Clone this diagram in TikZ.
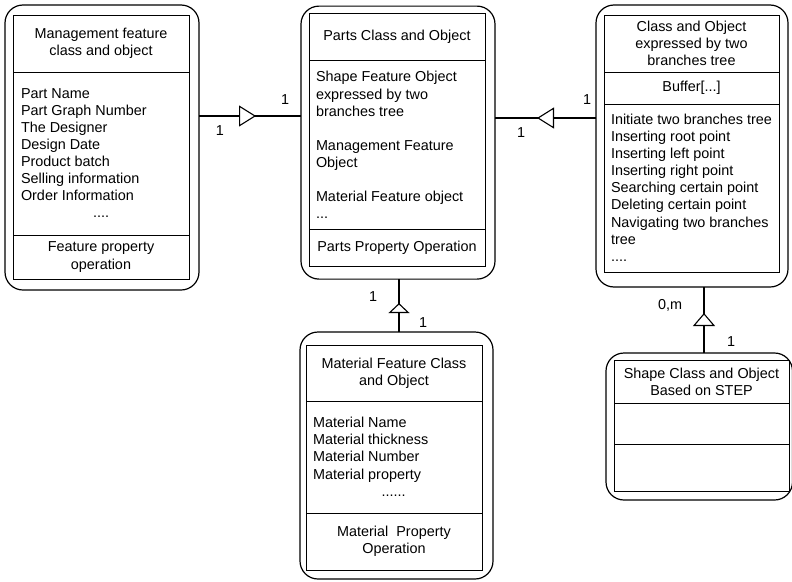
\documentclass[tikz,border=0pt]{standalone}
\usepackage{fontspec}
\setmainfont{Liberation Sans}
\usetikzlibrary{arrows.meta,decorations.markings}

\begin{document}
\begin{tikzpicture}[x=1pt,y=-1pt,
  every node/.style={font=\fontsize{14.4}{17.1}\selectfont, inner sep=0pt, outer sep=0pt},
  outerbox/.style={draw, line width=1.2pt, rounded corners=18pt},
  cell/.style={draw, line width=1pt, align=center},
  items/.style={anchor=north west, align=left},
  mult/.style={},
  link/.style={line width=1.1pt},
  gen/.style n args={3}{postaction={decorate},
    decoration={markings, mark=at position #1 with
      {\arrow{Triangle[length=#2pt, width=#3pt, fill=white, line width=1.1pt]}}}}
]
\useasboundingbox (0,0) rectangle (792,581);

% ---- Management feature class
\node[outerbox, minimum width=194pt, minimum height=285pt] (mgmt) at (102,147.5) {};
\node[cell, minimum width=176pt, minimum height=57pt] (mgmt-head) at (101,43.5)
  {Management feature\\class and object};
\node[cell, minimum width=176pt, minimum height=163pt] (mgmt-attr) at (101,153.5) {};
\node[cell, minimum width=176pt, minimum height=44pt] (mgmt-op) at (101,257)
  {Feature property\\operation};
\node[items] (mgmt-list) at (21,88.3)
  {Part Name\\Part Graph Number\\The Designer\\Design Date\\Product batch\\Selling information\\Order Information\\\hspace*{72pt}....};

% ---- Parts class
\node[outerbox, minimum width=194pt, minimum height=273pt] (parts) at (398,142.6) {};
\node[cell, minimum width=176pt, minimum height=46.7pt] (parts-head) at (397,36.65)
  {Parts Class and Object};
\node[cell, minimum width=176pt, minimum height=169.3pt] (parts-attr) at (397,144.65) {};
\node[cell, minimum width=176pt, minimum height=37.4pt] (parts-op) at (397,248)
  {Parts Property Operation};
\node[items] (parts-list) at (316,71.5)
  {Shape Feature Object\\expressed by two\\branches tree\\[17.1pt]Management Feature\\Object\\[17.1pt]Material Feature object\\...};

% ---- Binary tree class
\node[outerbox, minimum width=192pt, minimum height=282pt] (tree) at (692,146) {};
\node[cell, minimum width=175pt, minimum height=57pt] (tree-head) at (691.5,43.5)
  {Class and Object\\expressed by two\\branches tree};
\node[cell, minimum width=175pt, minimum height=32pt] (tree-buf) at (691.5,88)
  {Buffer[...]};
\node[cell, minimum width=175pt, minimum height=168pt] (tree-ops) at (691.5,188) {};
\node[items] (tree-list) at (611,114)
  {Initiate two branches tree\\Inserting root point\\Inserting left point\\Inserting right point\\Searching certain point\\Deleting certain point\\Navigating two branches\\tree\\....};

% ---- STEP shape class
\node[outerbox, minimum width=186.5pt, minimum height=147pt] (shape) at (699.25,426.5) {};
\node[cell, minimum width=175pt, minimum height=43pt] (shape-head) at (701.5,381.5)
  {Shape Class and Object\\Based on STEP};
\node[cell, minimum width=175pt, minimum height=41pt] (shape-attr) at (701.5,423.5) {};
\node[cell, minimum width=175pt, minimum height=47pt] (shape-op) at (701.5,467.5) {};

% ---- Material feature class
\node[outerbox, minimum width=193pt, minimum height=247pt] (mat) at (396.5,455.5) {};
\node[cell, minimum width=176pt, minimum height=56pt] (mat-head) at (394,373)
  {Material Feature Class\\and Object};
\node[cell, minimum width=176pt, minimum height=112pt] (mat-attr) at (394,457) {};
\node[cell, minimum width=176pt, minimum height=57pt] (mat-op) at (394,541.5)
  {Material\ \ Property\\Operation};
\node[items] (mat-list) at (313,417.3)
  {Material Name\\Material thickness\\Material Number\\Material property\\\hspace*{68.7pt}......};

% ---- Associations with open triangles
\draw[link, gen={0.559}{17}{21}] (mgmt.east |- 0,116) -- (parts.west |- 0,116);
\draw[link, gen={0.584}{17}{21}] (tree.west |- 0,118) -- (parts.east |- 0,118);
\draw[link, gen={0.606}{13}{22}] (704,0 |- shape.north) -- (704,0 |- tree.south);
\draw[link, gen={0.547}{10}{21}] (399,0 |- mat.north) -- (399,0 |- parts.south);

% ---- Multiplicities
\node[mult] (m1a) at (220,131) {1};
\node[mult] (m1b) at (285,100) {1};
\node[mult] (m2a) at (521,133) {1};
\node[mult] (m2b) at (587,100) {1};
\node[mult] (m3a) at (670,305) {0,m};
\node[mult] (m3b) at (731,342) {1};
\node[mult] (m4a) at (373,297) {1};
\node[mult] (m4b) at (423,323) {1};
\end{tikzpicture}
\end{document}
